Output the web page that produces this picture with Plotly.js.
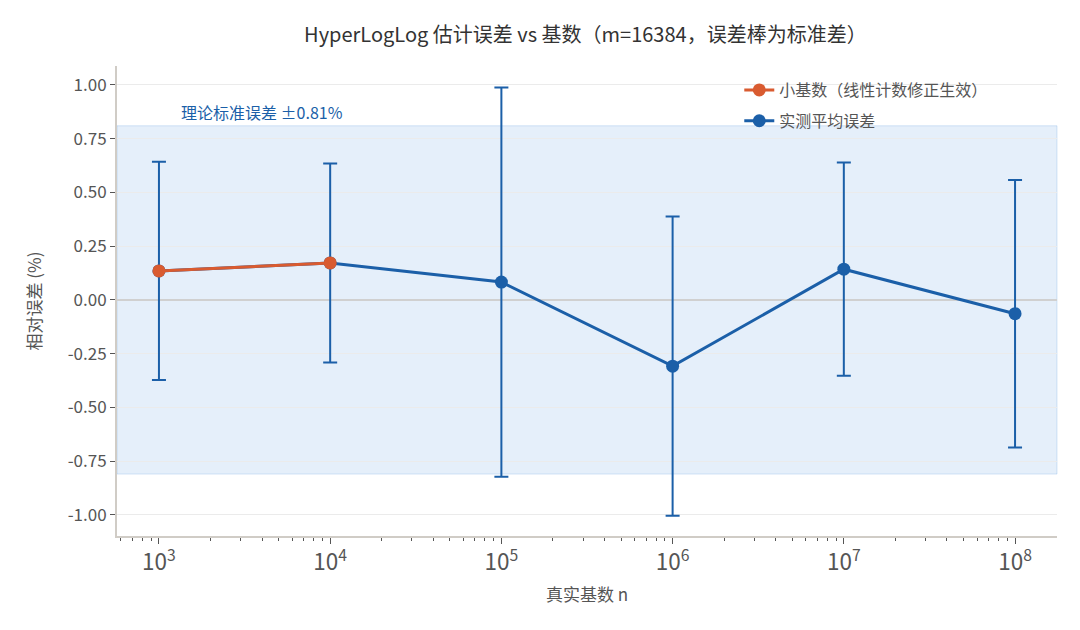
<!DOCTYPE html>
<html>
<head>
<meta charset="utf-8">
<script src="https://cdn.plot.ly/plotly-3.0.1.min.js"></script>
<style>
  body { margin: 0; background: #fff; }
  #chart { width: 1080px; height: 630px; }
</style>
</head>
<body>
<div id="chart"></div>
<script>
// true cardinalities and measured relative error (%)
const cardinality = [1e3, 1e4, 1e5, 1e6, 1e7, 1e8];
const meanError = [0.135, 0.172, 0.083, -0.308, 0.143, -0.064];
const stdError = [0.508, 0.463, 0.905, 0.696, 0.496, 0.622];

// small cardinalities where linear counting kicks in
const smallCard = [1e3, 1e4];
const smallMean = [0.135, 0.172];

const theoryStd = 0.81;

const yTickVals = [-1, -0.75, -0.5, -0.25, 0, 0.25, 0.5, 0.75, 1];
const yTickText = ['-1.00', '-0.75', '-0.50', '-0.25', '0.00', '0.25', '0.50', '0.75', '1.00'];

const blue = '#1b5fa8';
const orange = '#d95b30';
const font = '"Noto Sans CJK SC", "Noto Sans", sans-serif';

// blue first so the orange segment sits on top of it
var traces = [
  {
    x: cardinality,
    y: meanError,
    type: 'scatter',
    mode: 'lines+markers',
    name: '实测平均误差',
    legendgroup: 'b',
    legendrank: 2,
    line: { color: blue, width: 3 },
    marker: { color: blue, size: 13 },
    error_y: { type: 'data', array: stdError, visible: true, color: blue, thickness: 2, width: 7 }
  },
  {
    x: smallCard,
    y: smallMean,
    type: 'scatter',
    mode: 'lines+markers',
    name: '小基数（线性计数修正生效）',
    legendgroup: 'a',
    legendrank: 1,
    line: { color: orange, width: 3 },
    marker: { color: orange, size: 13 }
  }
];

var layout = {
  width: 1080,
  height: 630,
  margin: { l: 117, r: 23, t: 66, b: 94 },
  paper_bgcolor: '#fff',
  plot_bgcolor: '#fff',
  font: { family: font, color: '#555', size: 16 },
  title: {
    text: 'HyperLogLog 估计误差 vs 基数（m=16384，误差棒为标准差）',
    font: { family: font, size: 20, color: '#333' },
    x: 0.542, xanchor: 'center', y: 0.955
  },
  showlegend: true,
  legend: {
    x: 0.662, y: 0.985, xanchor: 'left', yanchor: 'top',
    bgcolor: 'rgba(0,0,0,0)',
    traceorder: 'grouped',
    tracegroupgap: 7,
    font: { size: 16, color: '#555' }
  },
  xaxis: {
    type: 'log',
    range: [2.755, 8.245],
    dtick: 1,
    exponentformat: 'power',
    showgrid: false,
    zeroline: false,
    showline: true,
    linecolor: '#d0ccc6',
    linewidth: 2,
    ticks: 'outside',
    ticklen: 6,
    tickcolor: '#555',
    minor: { ticks: 'outside', ticklen: 3, tickcolor: '#555', showgrid: false },
    tickfont: { size: 18, color: '#555' },
    title: { text: '真实基数 n', font: { size: 17, color: '#555' }, standoff: 14 }
  },
  yaxis: {
    range: [-1.098, 1.088],
    tickvals: yTickVals,
    ticktext: yTickText,
    showgrid: true,
    gridcolor: '#ebebeb',
    zeroline: true,
    zerolinecolor: '#d0d0d0',
    zerolinewidth: 1.5,
    showline: true,
    linecolor: '#d0ccc6',
    linewidth: 2,
    ticks: 'outside',
    ticklen: 5,
    tickcolor: '#555',
    tickfont: { size: 17, color: '#555' },
    title: { text: '相对误差 (%)', font: { size: 17, color: '#555' }, standoff: 22 }
  },
  shapes: [
    {
      type: 'rect', xref: 'paper', yref: 'y', layer: 'below',
      x0: 0, x1: 1, y0: -theoryStd, y1: theoryStd,
      fillcolor: 'rgba(40,120,210,0.12)',
      line: { color: 'rgba(40,120,210,0.18)', width: 1 }
    }
  ],
  annotations: [
    {
      xref: 'paper', yref: 'y', x: 0.066, y: theoryStd,
      xanchor: 'left', yanchor: 'bottom', yshift: 0,
      text: '理论标准误差 ±' + theoryStd + '%',
      showarrow: false,
      font: { size: 16, color: blue }
    }
  ]
};

Plotly.newPlot('chart', traces, layout, { displayModeBar: false });
</script>
</body>
</html>
